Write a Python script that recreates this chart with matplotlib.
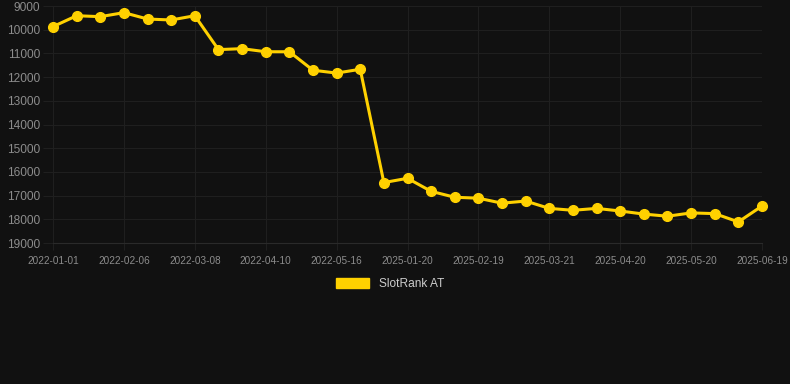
import matplotlib
matplotlib.use("Agg")
import matplotlib.pyplot as plt
from matplotlib.patches import Patch

plt.rcParams['font.family'] = ['Liberation Sans', 'DejaVu Sans']

tick_labels = ["2022-01-01", "2022-02-06", "2022-03-08", "2022-04-10", "2022-05-16",
               "2025-01-20", "2025-02-19", "2025-03-21", "2025-04-20", "2025-05-20",
               "2025-06-19"]
ranks = [9870, 9410, 9450, 9280, 9550, 9590, 9410, 10840, 10800, 10930, 10930,
         11710, 11830, 11670, 16450, 16270, 16820, 17070, 17110, 17320, 17230,
         17540, 17620, 17540, 17650, 17780, 17870, 17730, 17760, 18110, 17440]
series_name = "SlotRank AT"
yticks = list(range(9000, 19001, 1000))

W, H = 790, 384
fig = plt.figure(figsize=(W/100, H/100), dpi=100)
bg = '#111111'
fig.patch.set_facecolor(bg)
ax = fig.add_axes([53/W, 1-243/H, (762-53)/W, (243-6)/H])
ax.set_facecolor(bg)

x = list(range(len(ranks)))
gold = '#FFD100'
ax.plot(x, ranks, color=gold, lw=2.2, marker='o', ms=7, clip_on=False, zorder=3)

ax.set_xlim(0, len(ranks)-1)
ax.set_ylim(19000, 9000)
ax.set_yticks(yticks)
ax.set_yticklabels([str(v) for v in yticks])
ax.set_xticks(list(range(0, len(ranks), 3)))
ax.set_xticklabels(tick_labels)

gridc = '#1f1f1f'
ax.grid(True, color=gridc, lw=0.8)
for s in ['top', 'right', 'left']:
    ax.spines[s].set_visible(False)
ax.spines['bottom'].set_color('#2a2a2a')
ax.tick_params(axis='y', length=7, color=gridc, width=0.8, pad=2, labelsize=8.6, labelcolor='#8c8c8c')
ax.tick_params(axis='x', length=5, color=gridc, width=0.8, pad=4, labelsize=7.2, labelcolor='#8c8c8c')

leg = fig.legend(handles=[Patch(facecolor=gold, edgecolor=gold)], labels=[series_name],
                 loc='center', bbox_to_anchor=(390/W, 1-284/H), frameon=False,
                 handlelength=2.8, handleheight=0.9, fontsize=8.6)
for t in leg.get_texts():
    t.set_color('#cccccc')

fig.savefig('out.png', dpi=100, facecolor=bg)
